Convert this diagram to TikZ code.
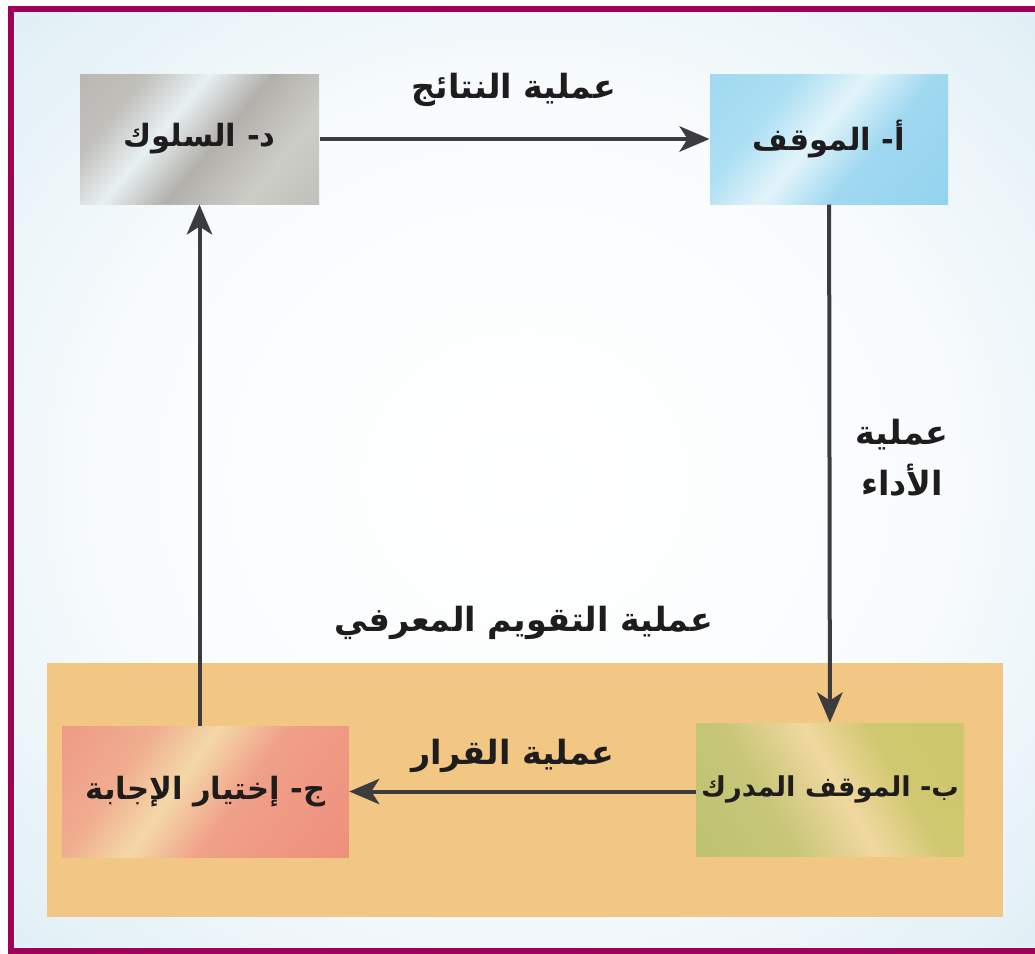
\documentclass[tikz,border=0pt]{standalone}
\usepackage{fontspec}
\usepackage{tikz}
\usetikzlibrary{arrows.meta}
\TeXXeTstate=1
\newfontfamily\arabicfont[Script=Arabic]{DejaVu Sans}
\tikzset{every picture/.style={line width=0.75pt}}

\definecolor{frame}{RGB}{160,0,90}
\definecolor{edgeblue}{RGB}{214,234,242}
\definecolor{cogbox}{RGB}{242,198,131}
\definecolor{arrowgrey}{RGB}{60,60,62}
\definecolor{inkblack}{RGB}{30,28,29}

\pgfdeclareradialshading{bgglow}{\pgfpoint{0bp}{0bp}}{color(0bp)=(white); color(20bp)=(white!85!edgeblue); color(42bp)=(edgeblue); color(100bp)=(edgeblue)}
\pgfdeclarehorizontalshading{greymetal}{100bp}{color(0bp)=(rgb,255:red,178;green,176;blue,170); color(28bp)=(rgb,255:red,192;green,191;blue,186); color(41bp)=(rgb,255:red,232;green,240;blue,242); color(54bp)=(rgb,255:red,178;green,176;blue,170); color(70bp)=(rgb,255:red,205;green,205;blue,200); color(100bp)=(rgb,255:red,180;green,178;blue,172)}
\pgfdeclarehorizontalshading{bluemetal}{100bp}{color(0bp)=(rgb,255:red,150;green,212;blue,238); color(33bp)=(rgb,255:red,172;green,223;blue,243); color(47bp)=(rgb,255:red,226;green,244;blue,250); color(61bp)=(rgb,255:red,160;green,216;blue,240); color(100bp)=(rgb,255:red,140;green,208;blue,238)}
\pgfdeclarehorizontalshading{redmetal}{100bp}{color(0bp)=(rgb,255:red,238;green,140;blue,124); color(32bp)=(rgb,255:red,240;green,172;blue,142); color(44bp)=(rgb,255:red,244;green,216;blue,168); color(57bp)=(rgb,255:red,240;green,160;blue,136); color(100bp)=(rgb,255:red,238;green,134;blue,120)}
\pgfdeclarehorizontalshading{greenmetal}{100bp}{color(0bp)=(rgb,255:red,180;green,192;blue,108); color(36bp)=(rgb,255:red,200;green,198;blue,120); color(52bp)=(rgb,255:red,240;green,216;blue,160); color(65bp)=(rgb,255:red,208;green,200;blue,112); color(100bp)=(rgb,255:red,206;green,198;blue,106)}

\tikzset{
  stagebox/.style={inner sep=0pt, text=inkblack, font=\arabicfont\bfseries\fontsize{23}{26}\selectfont},
  proclabel/.style={font=\arabicfont\bfseries\fontsize{25}{30}\selectfont, text=inkblack},
  procarrow/.style={draw=arrowgrey, line width=3pt, -{Stealth[length=22.5pt, width=19pt, inset=6pt]}}
}

\begin{document}
\begin{tikzpicture}[x=0.75pt,y=0.75pt,yscale=-1,xscale=1]
\useasboundingbox (0,0) rectangle (1035,953);
%Background glow
\shade [shading=bgglow] (15,12) rectangle (1035,948);
%Frame
\draw [color=frame, line width=4.5] (11,8.5) rectangle (1045,950.5);
%Cognitive appraisal zone
\fill [cogbox] (47,663) rectangle (1003,917);

% Stage boxes
\node [stagebox, shading=greymetal, shading angle=-40, minimum width=179.25pt, minimum height=97.5pt] (behav) at (199.5,139) {\beginR د- السلوك\endR};
\node [stagebox, shading=bluemetal, shading angle=-40, minimum width=178.5pt, minimum height=97.5pt] (situ) at (829,139) {\beginR أ- الموقف\endR};
\node [stagebox, shading=greenmetal, shading angle=30, minimum width=201pt, minimum height=99.75pt,
  font=\arabicfont\bfseries\fontsize{20.5}{24}\selectfont] (percv) at (830,789.5) {\beginR ب- الموقف المدرك\endR};
\node [stagebox, shading=redmetal, shading angle=-35, minimum width=215pt, minimum height=98.25pt] (choice) at (205.5,791.5) {\beginR ج- إختيار الإجابة\endR};

% Connectors
\draw [procarrow] (behav) -- (situ);
\draw [procarrow] (situ) -- (percv);
\draw [procarrow] (percv.west |- choice) -- (choice);
\draw [procarrow] (choice.north -| behav) -- (behav);

% Text Node
\node [proclabel] (outc) at (514,90) {\beginR عملية النتائج\endR};
% Text Node
\node [proclabel, align=center] (perf) at (902,458) {\beginR عملية\endR\\[8pt]\beginR الأداء\endR};
% Text Node
\node [proclabel] (appr) at (524,623) {\beginR عملية التقويم المعرفي\endR};
% Text Node
\node [proclabel] (decis) at (513,756) {\beginR عملية القرار\endR};
\end{tikzpicture}
\end{document}
